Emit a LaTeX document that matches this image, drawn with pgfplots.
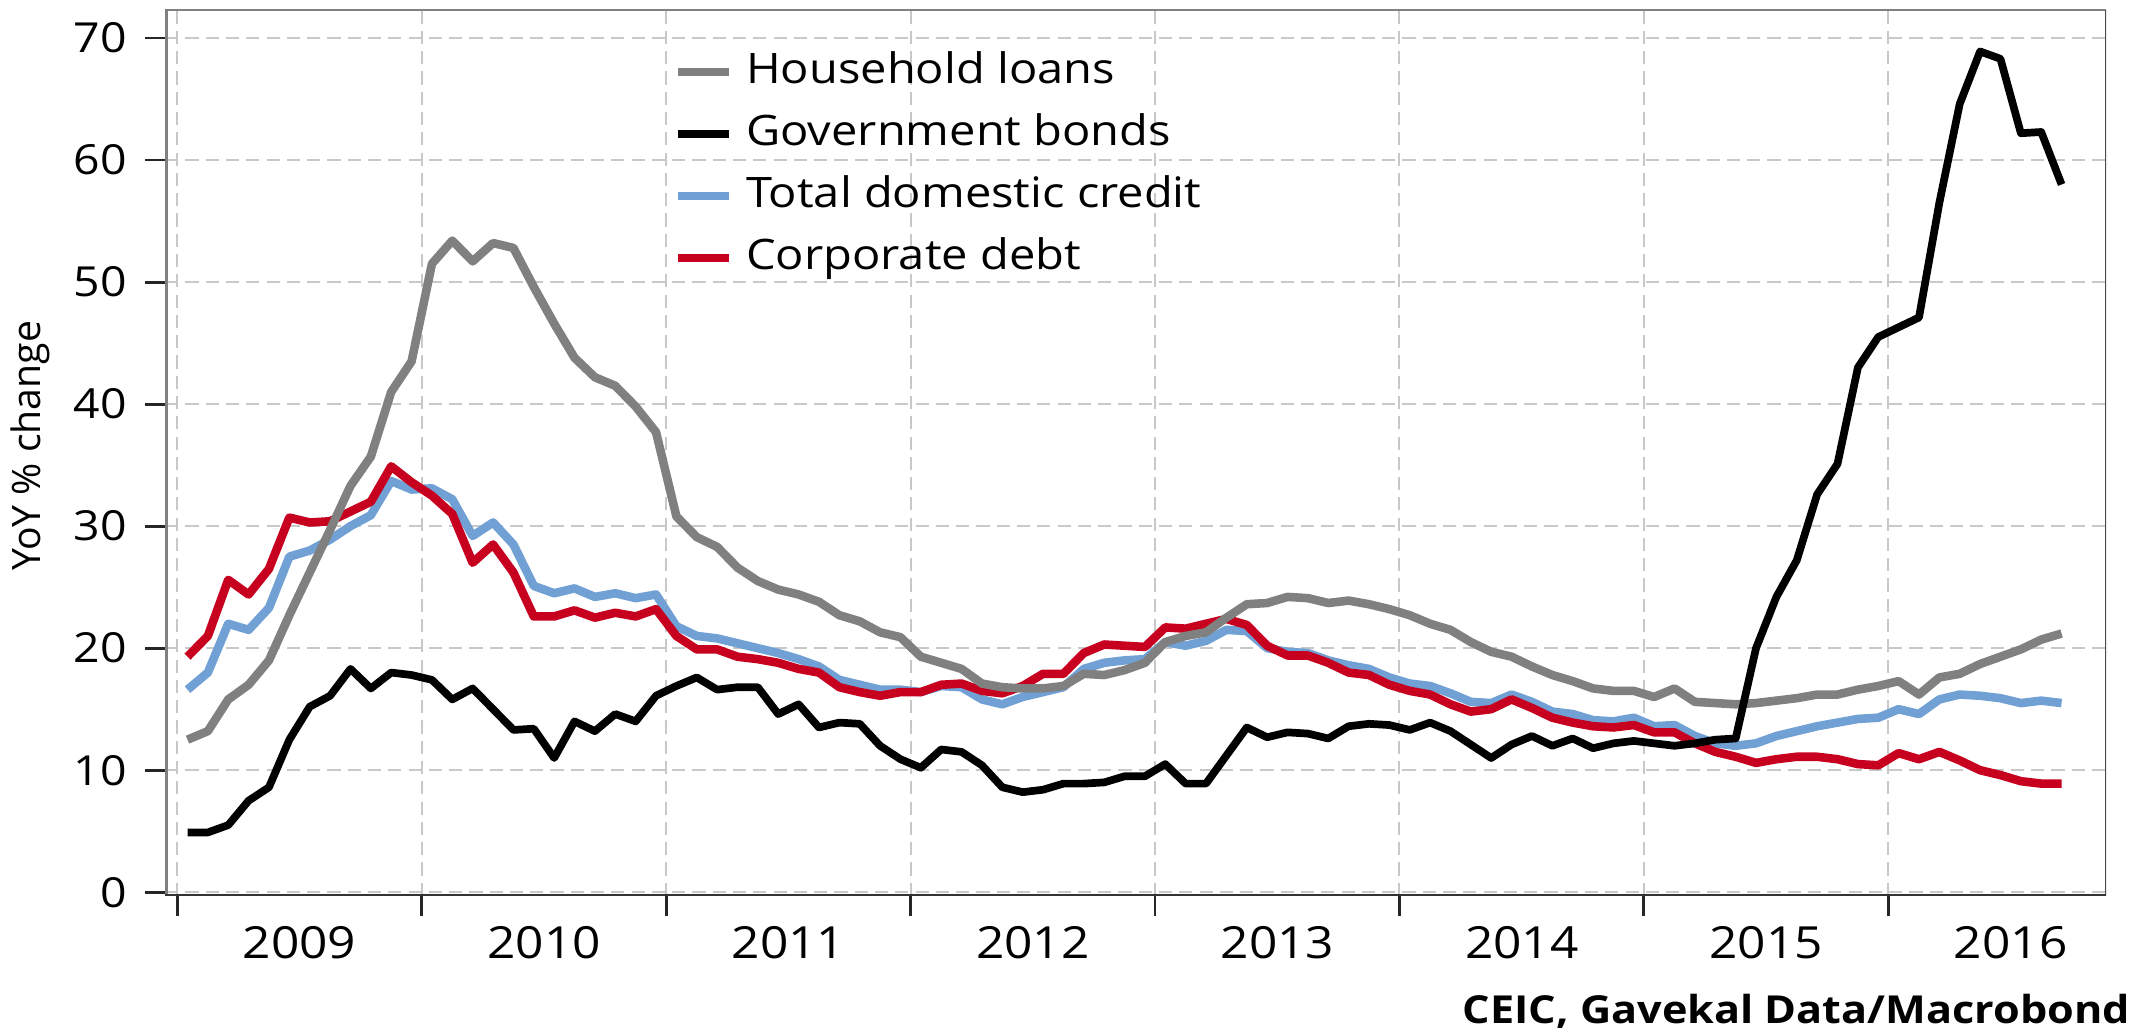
\documentclass[border=0pt]{standalone}
\usepackage{fontspec}
\setmainfont{Open Sans}[FakeStretch=1.12]
\newfontfamily\ylabfont{Open Sans}
\usepackage{pgfplots}
\pgfplotsset{compat=1.18}
\usepackage{pgfplotstable}

\definecolor{hhgray}{RGB}{128,128,128}
\definecolor{totblue}{RGB}{112,160,212}
\definecolor{corpred}{RGB}{198,0,30}
\definecolor{gridgray}{RGB}{200,200,200}

% monthly YoY % change, n = 0 is Jan 2009
\pgfplotstableread{
n hh gov tot corp
0 12.5 4.9 16.6 19.3
1 13.2 4.9 18.0 21.0
2 15.8 5.5 22.0 25.6
3 17.0 7.5 21.5 24.4
4 19.0 8.6 23.3 26.5
5 22.7 12.5 27.5 30.7
6 26.2 15.2 28.0 30.3
7 29.7 16.1 28.9 30.4
8 33.3 18.3 30.0 31.2
9 35.7 16.7 30.9 32.0
10 41.0 18.0 33.7 34.9
11 43.5 17.8 33.0 33.6
12 51.5 17.4 33.1 32.5
13 53.4 15.8 32.2 31.0
14 51.7 16.7 29.2 27.0
15 53.2 15.0 30.3 28.5
16 52.8 13.3 28.5 26.2
17 49.6 13.4 25.1 22.6
18 46.6 11.0 24.5 22.6
19 43.8 14.0 24.9 23.1
20 42.2 13.2 24.2 22.5
21 41.5 14.6 24.5 22.9
22 39.8 14.0 24.1 22.6
23 37.7 16.1 24.4 23.2
24 30.8 16.9 21.8 21.0
25 29.1 17.6 21.0 19.9
26 28.3 16.6 20.8 19.9
27 26.6 16.8 20.4 19.3
28 25.5 16.8 20.0 19.1
29 24.8 14.6 19.6 18.8
30 24.4 15.4 19.1 18.3
31 23.8 13.5 18.5 18.0
32 22.7 13.9 17.4 16.8
33 22.2 13.8 17.0 16.4
34 21.3 12.0 16.6 16.1
35 20.9 10.9 16.6 16.4
36 19.3 10.2 16.4 16.4
37 18.8 11.7 16.9 17.0
38 18.3 11.5 16.8 17.1
39 17.1 10.4 15.8 16.5
40 16.8 8.6 15.4 16.3
41 16.7 8.2 16.0 16.9
42 16.7 8.4 16.4 17.9
43 16.9 8.9 16.8 17.9
44 17.9 8.9 18.3 19.6
45 17.8 9.0 18.8 20.3
46 18.2 9.5 19.0 20.2
47 18.8 9.5 19.1 20.1
48 20.5 10.5 20.5 21.7
49 21.0 8.9 20.2 21.6
50 21.3 8.9 20.6 22.0
51 22.5 11.2 21.5 22.4
52 23.6 13.5 21.4 21.9
53 23.7 12.7 20.0 20.2
54 24.2 13.1 19.7 19.4
55 24.1 13.0 19.6 19.4
56 23.7 12.6 19.0 18.8
57 23.9 13.6 18.6 18.0
58 23.6 13.8 18.3 17.8
59 23.2 13.7 17.6 17.0
60 22.7 13.3 17.1 16.5
61 22.0 13.9 16.9 16.2
62 21.5 13.2 16.3 15.4
63 20.5 12.1 15.6 14.8
64 19.7 11.0 15.5 15.0
65 19.3 12.1 16.2 15.8
66 18.5 12.8 15.6 15.1
67 17.8 12.0 14.8 14.3
68 17.3 12.6 14.6 13.9
69 16.7 11.8 14.1 13.6
70 16.5 12.2 14.0 13.5
71 16.5 12.4 14.3 13.7
72 16.0 12.2 13.6 13.1
73 16.7 12.0 13.7 13.1
74 15.6 12.2 12.8 12.2
75 15.5 12.5 12.2 11.5
76 15.4 12.6 12.0 11.1
77 15.5 20.0 12.2 10.6
78 15.7 24.2 12.8 10.9
79 15.9 27.2 13.2 11.1
80 16.2 32.6 13.6 11.1
81 16.2 35.1 13.9 10.9
82 16.6 43.0 14.2 10.5
83 16.9 45.5 14.3 10.4
84 17.3 46.3 15.0 11.4
85 16.2 47.1 14.6 10.9
86 17.6 56.5 15.8 11.5
87 17.9 64.6 16.2 10.8
88 18.7 68.9 16.1 10.0
89 19.3 68.3 15.9 9.6
90 19.9 62.2 15.5 9.1
91 20.7 62.3 15.7 8.9
92 21.2 58.0 15.5 8.9
}\credit

\begin{document}
\begin{tikzpicture}
\begin{axis}[
    width=679.4pt, height=310.1pt, scale only axis,
    xmin=2008.95, xmax=2016.89,
    ymin=-0.3, ymax=72.3,
    axis line style={draw=none},
    xtick={2009,...,2016},
    xticklabels={\empty,\empty,\empty,\empty,\empty,\empty,\empty,\empty},
    extra x ticks={2009.5,2010.5,2011.5,2012.5,2013.5,2014.5,2015.5,2016.5},
    extra x tick labels={2009,2010,2011,2012,2013,2014,2015,2016},
    extra x tick style={grid=none, tick style={draw=none}},
    ytick={0,10,...,70},
    tick pos=left, tick align=outside, major tick length=7pt,
    tick style={black!85, line width=1pt},
    grid=major,
    major grid style={gridgray, line width=0.7pt, dash pattern=on 4.6pt off 2.5pt},
    /pgf/number format/assume math mode=true,
    yticklabel style={font=\fontsize{14.5}{17}\selectfont, xshift=-3pt},
    xticklabel style={font=\fontsize{15.5}{18}\selectfont},
    legend cell align=left,
    legend image code/.code={\draw[#1] (0pt,0pt) -- (17.9pt,0pt);},
    legend style={at={(0.2617,0.953)}, anchor=north west, draw=none, fill=none,
        inner sep=0pt, row sep=7.7pt, column sep=4.5pt,
        font=\fontsize{14.7}{17}\selectfont,
        nodes={inner sep=0pt, text height=11pt, text depth=3pt}},
]
\addplot[totblue, line width=3pt, line join=round, forget plot]
    table[x expr=2009+(\thisrow{n}+0.5)/12, y=tot]{\credit};
\addplot[corpred, line width=3pt, line join=round, forget plot]
    table[x expr=2009+(\thisrow{n}+0.5)/12, y=corp]{\credit};
\addplot[hhgray, line width=3pt, line join=round, forget plot]
    table[x expr=2009+(\thisrow{n}+0.5)/12, y=hh]{\credit};
\addplot[black, line width=2.7pt, line join=round, forget plot]
    table[x expr=2009+(\thisrow{n}+0.5)/12, y=gov]{\credit};

\addlegendimage{hhgray, line width=3pt}
\addlegendentry{Household loans}
\addlegendimage{black, line width=3pt}
\addlegendentry{Government bonds}
\addlegendimage{totblue, line width=3pt}
\addlegendentry{Total domestic credit}
\addlegendimage{corpred, line width=3pt}
\addlegendentry{Corporate debt}

% frame: heavier on the left and bottom
\draw[hhgray, line width=2pt] (rel axis cs:0,0) -- (rel axis cs:0,1);
\draw[gray, line width=1pt] (rel axis cs:0,1) -- (rel axis cs:1,1);
\draw[black!70, line width=1pt] (rel axis cs:1,0) -- (rel axis cs:1,1);
\draw[black!80, line width=1.2pt] (rel axis cs:0,0) -- (rel axis cs:1,0);
\coordinate (A) at (rel axis cs:0,0);
\coordinate (B) at (rel axis cs:1,1);
\coordinate (C) at (rel axis cs:1,0);
\coordinate (L) at (rel axis cs:0,0.5);
\end{axis}
\node[rotate=90, font=\ylabfont\fontsize{13.7}{16}\selectfont] at ([shift={(-47.3pt,2.5pt)}]L) {YoY \% change};
\node[anchor=base east, font=\bfseries\fontsize{13.5}{16}\selectfont] at ([shift={(11.9pt,-44.8pt)}]C) {CEIC, Gavekal Data/Macrobond};
\pgfresetboundingbox
\path ([shift={(-57.8pt,-47.6pt)}]A) rectangle ([shift={(12.6pt,3.5pt)}]B);
\end{tikzpicture}
\end{document}
